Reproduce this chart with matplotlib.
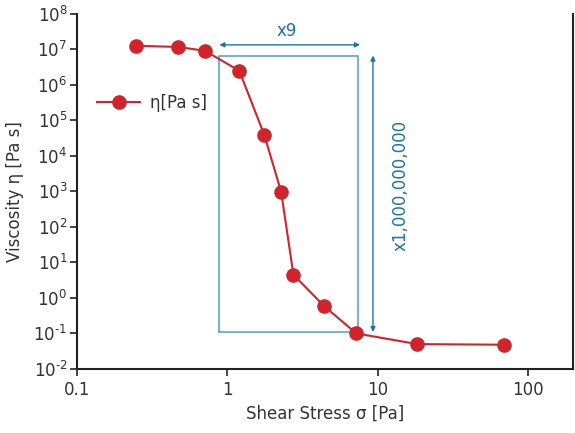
import matplotlib
matplotlib.use('Agg')
import matplotlib.pyplot as plt
import numpy as np
from matplotlib.ticker import FixedLocator, NullLocator, FixedFormatter

# data
stress = [0.248, 0.47, 0.71, 1.20, 1.76, 2.28, 2.75, 4.4, 7.2, 18.3, 69]
visc = [1.26e7, 1.17e7, 9.1e6, 2.5e6, 3.9e4, 970, 4.5, 0.59, 0.10, 0.05, 0.048]

xticks = [0.1, 1, 10, 100]
xticklabels = ['0.1', '1', '10', '100']
yexp = list(range(-2, 9))

# annotation box / arrows
box_x = [0.885, 7.4]
box_y = [0.11, 6.7e6]
harrow_y = 1.34e7
varrow_x = 9.3

red = '#d0232b'
blue = '#1b72b0'
lightblue = '#5fa3cf'

fig = plt.figure(figsize=(5.75, 4.33), dpi=100)
ax = fig.add_axes([0.134, 0.148, 0.863, 0.82])
ax.set_xscale('log')
ax.set_yscale('log')
ax.set_xlim(0.1, 200)
ax.set_ylim(1e-2, 1e8)

ax.plot(stress, visc, color=red, lw=1.5, marker='o', ms=9.5, label='η[Pa s]', zorder=3)

# box
ax.plot([box_x[0], box_x[1], box_x[1], box_x[0], box_x[0]],
        [box_y[0], box_y[0], box_y[1], box_y[1], box_y[0]],
        color=lightblue, lw=1.2, zorder=2)

# arrows
ax.annotate('', xy=(box_x[0], harrow_y), xytext=(box_x[1] * 1.03, harrow_y),
            arrowprops=dict(arrowstyle='<|-|>', color=blue, lw=1, mutation_scale=7,
                            shrinkA=0, shrinkB=0))
ax.annotate('', xy=(varrow_x, box_y[1]), xytext=(varrow_x, box_y[0]),
            arrowprops=dict(arrowstyle='<|-|>', color=blue, lw=1, mutation_scale=7,
                            shrinkA=0, shrinkB=0))
ax.text(2.5, 3.3e7, 'x9', color=blue, fontsize=12, ha='center', va='center')
ax.text(14.2, 1500, 'x1,000,000,000', color=blue, fontsize=12, ha='center', va='center',
        rotation=90)

ax.xaxis.set_major_locator(FixedLocator(xticks))
ax.xaxis.set_major_formatter(FixedFormatter(xticklabels))
ax.xaxis.set_minor_locator(NullLocator())
ax.yaxis.set_major_locator(FixedLocator([10.0 ** e for e in yexp]))
ax.yaxis.set_major_formatter(FixedFormatter(['$10^{%s}$' % (('\\text{-}%d' % -e) if e < 0 else str(e)) for e in yexp]))
ax.yaxis.set_minor_locator(NullLocator())

ax.spines['top'].set_visible(False)
for s in ['left', 'bottom', 'right']:
    ax.spines[s].set_linewidth(1.5)
    ax.spines[s].set_color('#222222')
ax.tick_params(axis='both', which='major', direction='out', length=5, width=1.2,
               labelsize=12, labelcolor='#333333', color='#222222')
ax.tick_params(axis='y', pad=2)

ax.set_xlabel('Shear Stress σ [Pa]', fontsize=12, color='#333333', labelpad=4)
ax.set_ylabel('Viscosity η [Pa s]', fontsize=12, color='#333333', labelpad=7)

ax.legend(loc='center left', bbox_to_anchor=(0.01, 0.749), frameon=False, fontsize=12,
          handlelength=2.6, handletextpad=0.6, labelcolor='#333333')

fig.savefig('out.png', dpi=100)
